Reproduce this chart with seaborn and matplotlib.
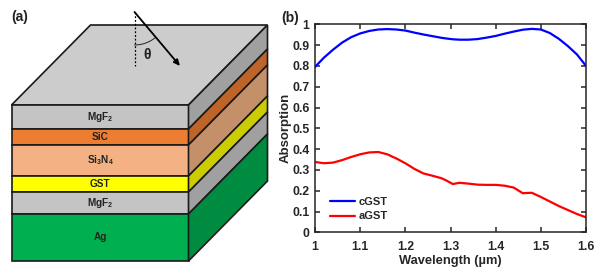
import numpy as np
import pandas as pd
import matplotlib
matplotlib.use("Agg")
import matplotlib.pyplot as plt
from matplotlib.patches import Polygon
import seaborn as sns

sns.set_style("white")
plt.rcParams['font.family'] = ['Liberation Sans', 'DejaVu Sans']
plt.rcParams['mathtext.fontset'] = 'custom'
plt.rcParams['mathtext.bf'] = 'Liberation Sans:bold'
plt.rcParams['mathtext.rm'] = 'Liberation Sans:bold'

wavelength = [1.0, 1.02, 1.04, 1.06, 1.08, 1.1, 1.12, 1.14, 1.16, 1.18, 1.2, 1.22, 1.24, 1.26, 1.28, 1.29, 1.305,
              1.32, 1.34, 1.36, 1.38, 1.4, 1.42, 1.44, 1.46, 1.48, 1.5, 1.52, 1.54, 1.56, 1.58, 1.6]
cgst = [0.795, 0.84, 0.878, 0.912, 0.938, 0.956, 0.968, 0.975, 0.977, 0.975, 0.97, 0.96, 0.951, 0.943, 0.935, 0.932, 0.928,
        0.926, 0.926, 0.929, 0.936, 0.944, 0.955, 0.965, 0.974, 0.978, 0.975, 0.958, 0.93, 0.895, 0.855, 0.80]
agst = [0.338, 0.332, 0.335, 0.347, 0.362, 0.375, 0.384, 0.386, 0.375, 0.355, 0.332, 0.305, 0.283, 0.272, 0.26, 0.25, 0.232,
        0.238, 0.234, 0.229, 0.228, 0.228, 0.224, 0.215, 0.188, 0.19, 0.17, 0.148, 0.126, 0.107, 0.088, 0.072]
y_ticks = [0, 0.1, 0.2, 0.3, 0.4, 0.5, 0.6, 0.7, 0.8, 0.9, 1]
y_labels = ['0', '0.1', '0.2', '0.3', '0.4', '0.5', '0.6', '0.7', '0.8', '0.9', '1']
x_ticks = [1, 1.1, 1.2, 1.3, 1.4, 1.5, 1.6]
x_labels = ['1', '1.1', '1.2', '1.3', '1.4', '1.5', '1.6']

layer_names = [r'MgF$_{2}$', 'SiC', r'Si$_{3}$N$_{4}$', 'GST', r'MgF$_{2}$', 'Ag']
layer_heights = [24, 16, 31, 16, 22, 47]
front_colors = ['#C4C4C4', '#ED7D31', '#F4B183', '#FFFF00', '#C4C4C4', '#00B050']
side_colors = ['#A0A0A0', '#BF6428', '#C4906A', '#CCCC00', '#A0A0A0', '#008C40']
top_color = '#CCCCCC'

W, H = 599, 270
fig = plt.figure(figsize=(W / 100, H / 100), dpi=100)

# Schematic, in pixel coordinates of the figure
a = fig.add_axes([0, 0, 1, 1])
a.set_xlim(0, W)
a.set_ylim(H, 0)
a.axis('off')
left, right, top = 11.5, 188.5, 105
dx, dy = 79, 80
edge = dict(edgecolor='#1a1a1a', linewidth=1.2, joinstyle='miter')
a.add_patch(Polygon([(left, top), (right, top), (right + dx, top - dy), (left + dx, top - dy)],
                    facecolor=top_color, **edge))
y = top
for name, h, fc, sc in zip(layer_names, layer_heights, front_colors, side_colors):
    a.add_patch(Polygon([(left, y), (right, y), (right, y + h), (left, y + h)], facecolor=fc, **edge))
    a.add_patch(Polygon([(right, y), (right + dx, y - dy), (right + dx, y + h - dy), (right, y + h)],
                        facecolor=sc, **edge))
    a.text((left + right) / 2, y + h / 2, name, ha='center', va='center', fontsize=7.2,
           fontweight='bold', color='#222222')
    y += h
a.plot([134.5, 134.5], [12, 66], color='black', lw=0.9, ls=(0, (1.5, 1.5)))
a.annotate('', xy=(180, 66), xytext=(134.5, 12),
           arrowprops=dict(arrowstyle='-|>,head_width=0.16,head_length=0.35', color='black', lw=1.3,
                           shrinkA=0, shrinkB=0))
t = np.radians(np.linspace(0, 40, 20))
a.plot(134.5 + 33 * np.sin(t), 12 + 33 * np.cos(t), color='#222222', lw=0.7)
a.text(147, 55, 'θ', ha='center', va='center', fontsize=10, fontweight='bold', color='#222222')
a.text(11, 17.5, '(a)', ha='left', va='center', fontsize=10, fontweight='bold', color='#222222')
a.text(281, 18, '(b)', ha='left', va='center', fontsize=10, fontweight='bold', color='#222222')

# Spectrum
ax = fig.add_axes([315 / W, 1 - 232.3 / H, (586 - 315) / W, (232.3 - 24.3) / H])
df = pd.DataFrame({'Wavelength': wavelength * 2, 'Absorption': cgst + agst,
                   'State': ['cGST'] * len(cgst) + ['aGST'] * len(agst)})
sns.lineplot(data=df, x='Wavelength', y='Absorption', hue='State', hue_order=['cGST', 'aGST'],
             palette=['#0000FF', '#FF0000'], lw=1.6, ax=ax, errorbar=None)
ax.set_xlim(1, 1.6)
ax.set_ylim(0, 1)
ax.set_xticks(x_ticks, x_labels)
ax.set_yticks(y_ticks, y_labels)
dark = '#262626'
ax.tick_params(direction='in', length=3.6, width=1.1, top=True, right=True, bottom=True, left=True,
               labelsize=8.8, colors=dark)
ax.tick_params(axis='x', pad=6)
ax.tick_params(axis='y', pad=4)
for lab in ax.get_xticklabels() + ax.get_yticklabels():
    lab.set_fontweight('bold')
for s in ax.spines.values():
    s.set_linewidth(1.1)
    s.set_edgecolor(dark)
ax.set_xlabel('Wavelength (µm)', fontsize=9.3, fontweight='bold', color=dark, labelpad=2)
ax.set_ylabel('Absorption', fontsize=9.5, fontweight='bold', color=dark, labelpad=0.5)
leg = ax.legend(loc='lower left', bbox_to_anchor=(0.055, 0.052), frameon=False, fontsize=8,
                handlelength=2.3, handletextpad=0.25, labelspacing=0.4, borderpad=0, borderaxespad=0)
for txt in leg.get_texts():
    txt.set_fontweight('bold')
    txt.set_color(dark)

fig.savefig('out.png', dpi=100)
